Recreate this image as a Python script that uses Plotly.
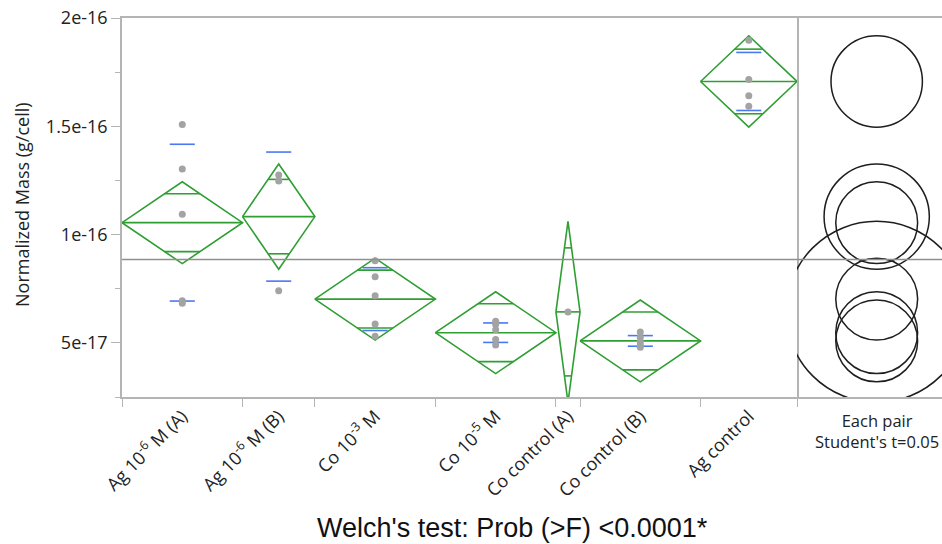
import numpy as np
import plotly.graph_objects as go

# ---------------- data ----------------
group_labels = ["Ag 10<sup>-6</sup> M (A)", "Ag 10<sup>-6</sup> M (B)", "Co 10<sup>-3</sup> M",
                "Co 10<sup>-5</sup> M", "Co control (A)", "Co control (B)", "Ag control"]

ag6_a = [1.508e-16, 1.303e-16, 1.094e-16, 0.695e-16, 0.683e-16]
ag6_b = [1.275e-16, 1.247e-16, 0.741e-16]
co3 = [0.879e-16, 0.805e-16, 0.717e-16, 0.587e-16, 0.530e-16]
co5 = [0.600e-16, 0.585e-16, 0.560e-16, 0.515e-16, 0.490e-16]
co_ctrl_a = [0.643e-16]
co_ctrl_b = [0.550e-16, 0.525e-16, 0.505e-16, 0.490e-16, 0.480e-16]
ag_ctrl = [1.897e-16, 1.716e-16, 1.641e-16, 1.593e-16]

group_means = [1.055e-16, 1.083e-16, 0.702e-16, 0.547e-16, 0.643e-16, 0.509e-16, 1.707e-16]
ci_half = [1.89e-17, 2.43e-17, 1.89e-17, 1.89e-17, 4.18e-17, 1.89e-17, 2.11e-17]
std_dev = [0.362e-16, 0.298e-16, 0.145e-16, 0.045e-16, None, 0.0245e-16, 0.134e-16]
grand_mean = 8.85e-17

y_tick_vals = [5e-17, 1e-16, 1.5e-16, 2e-16]
y_tick_text = ["5e-17", "1e-16", "1.5e-16", "2e-16"]
y_minor_vals = [2.5e-17, 7.5e-17, 1.25e-16, 1.75e-16]
y_range = [2.5e-17, 2e-16]

# ---------------- layout constants ----------------
W, H = 942, 544
M_L, M_R, M_T, M_B = 122, 0, 18, 147
plot_w = W - M_L - M_R
plot_h = H - M_T - M_B
main_w = 675
circle_center_px = 79.7  # from panel left

green = "#2f9e33"
blue = "#4a78f0"
gray_pt = "#a3a3a3"
axis_gray = "#b4b4b4"

groups = [ag6_a, ag6_b, co3, co5, co_ctrl_a, co_ctrl_b, ag_ctrl]
counts = [len(g) for g in groups]
edges = np.concatenate([[0], np.cumsum(counts)])
centers = (edges[:-1] + edges[1:]) / 2.0
total_n = int(edges[-1])

fig = go.Figure()

# means diamonds
dx, dy = [], []
for i in range(len(groups)):
    l, r, c = edges[i], edges[i + 1], centers[i]
    m, h = group_means[i], ci_half[i]
    dx += [l, c, r, c, l, None, l, r, None]
    dy += [m, m + h, m, m - h, m, None, m, m, None]
    d = h / np.sqrt(2)
    w = (r - l) / 2 * (1 - 1 / np.sqrt(2))
    dx += [c - w, c + w, None, c - w, c + w, None]
    dy += [m + d, m + d, None, m - d, m - d, None]
fig.add_trace(go.Scatter(x=dx, y=dy, mode="lines", line=dict(color=green, width=1.6),
                         hoverinfo="skip", showlegend=False))

# std dev lines
sx, sy = [], []
for i in range(len(groups)):
    if std_dev[i] is None:
        continue
    c, m, s = centers[i], group_means[i], std_dev[i]
    sx += [c - 0.52, c + 0.52, None, c - 0.52, c + 0.52, None]
    sy += [m + s, m + s, None, m - s, m - s, None]
fig.add_trace(go.Scatter(x=sx, y=sy, mode="lines", line=dict(color=blue, width=1.6),
                         hoverinfo="skip", showlegend=False))

# points
px_, py_ = [], []
for i, g in enumerate(groups):
    px_ += [centers[i]] * len(g)
    py_ += list(g)
fig.add_trace(go.Scatter(x=px_, y=py_, mode="markers",
                         marker=dict(color=gray_pt, size=7), showlegend=False))

# dummy trace so the circle subplot exists
fig.add_trace(go.Scatter(x=[None], y=[None], xaxis="x2", yaxis="y", showlegend=False,
                         hoverinfo="skip"))

# comparison circles
upp = (y_range[1] - y_range[0]) / plot_h
x2_range = [-circle_center_px * upp, (plot_w - main_w - circle_center_px) * upp]
for i in range(len(groups)):
    r = ci_half[i]
    m = group_means[i]
    fig.add_shape(type="circle", xref="x2", yref="y", x0=-r, x1=r, y0=m - r, y1=m + r,
                  line=dict(color="#1e1e1e", width=1.5))

# grand mean line
fig.add_shape(type="line", xref="paper", yref="y", x0=0, x1=1, y0=grand_mean, y1=grand_mean,
              line=dict(color="#8f8f8f", width=1.6))

tick_font = dict(family="Open Sans", size=18, color="#222222")

fig.update_layout(
    width=W, height=H,
    margin=dict(l=M_L, r=M_R, t=M_T, b=M_B),
    plot_bgcolor="white", paper_bgcolor="white",
    xaxis=dict(domain=[0, main_w / plot_w], range=[0, total_n], showgrid=False, zeroline=False,
               showline=True, linecolor=axis_gray, linewidth=1.5, mirror=True,
               tickmode="array", tickvals=list(centers), ticktext=group_labels,
               tickangle=-45, ticks="", tickfont=tick_font,
               minor=dict(tickmode="array", tickvals=list(edges), ticks="outside", ticklen=8,
                          tickcolor=axis_gray, tickwidth=1.2)),
    xaxis2=dict(domain=[main_w / plot_w, 1], range=x2_range, anchor="y", showgrid=False,
                zeroline=False, showline=True, linecolor=axis_gray, linewidth=1.5, mirror=True,
                showticklabels=False, ticks=""),
    yaxis=dict(range=y_range, showgrid=False, zeroline=False, showline=True, linecolor=axis_gray,
               linewidth=1.5, mirror=True, tickmode="array", tickvals=y_tick_vals,
               ticktext=y_tick_text, ticks="outside", ticklen=9, tickcolor=axis_gray,
               tickwidth=1.2, tickfont=tick_font,
               minor=dict(tickmode="array", tickvals=y_minor_vals, ticks="outside", ticklen=5,
                          tickcolor=axis_gray, tickwidth=1.2)),
    annotations=[
        dict(text="Normalized Mass (g/cell)", xref="paper", yref="paper",
             x=(22 - M_L) / plot_w, y=(M_T + plot_h - 205) / plot_h, textangle=-90,
             showarrow=False, xanchor="center", yanchor="middle",
             font=dict(family="Open Sans", size=18, color="#222222")),
        dict(text="Each pair<br>Student's t=0.05", xref="x2", yref="paper", x=0,
             y=(M_T + plot_h - 431) / plot_h, showarrow=False, xanchor="center",
             yanchor="middle", align="center",
             font=dict(family="Open Sans", size=16.5, color="#222222")),
        dict(text="Welch's test: Prob (>F) <0.0001*", xref="paper", yref="paper",
             x=(512 - M_L) / plot_w, y=(M_T + plot_h - 528) / plot_h, showarrow=False,
             xanchor="center", yanchor="middle",
             font=dict(family="Liberation Sans", size=27, color="#111111")),
    ],
)

fig.write_html("out.html")
